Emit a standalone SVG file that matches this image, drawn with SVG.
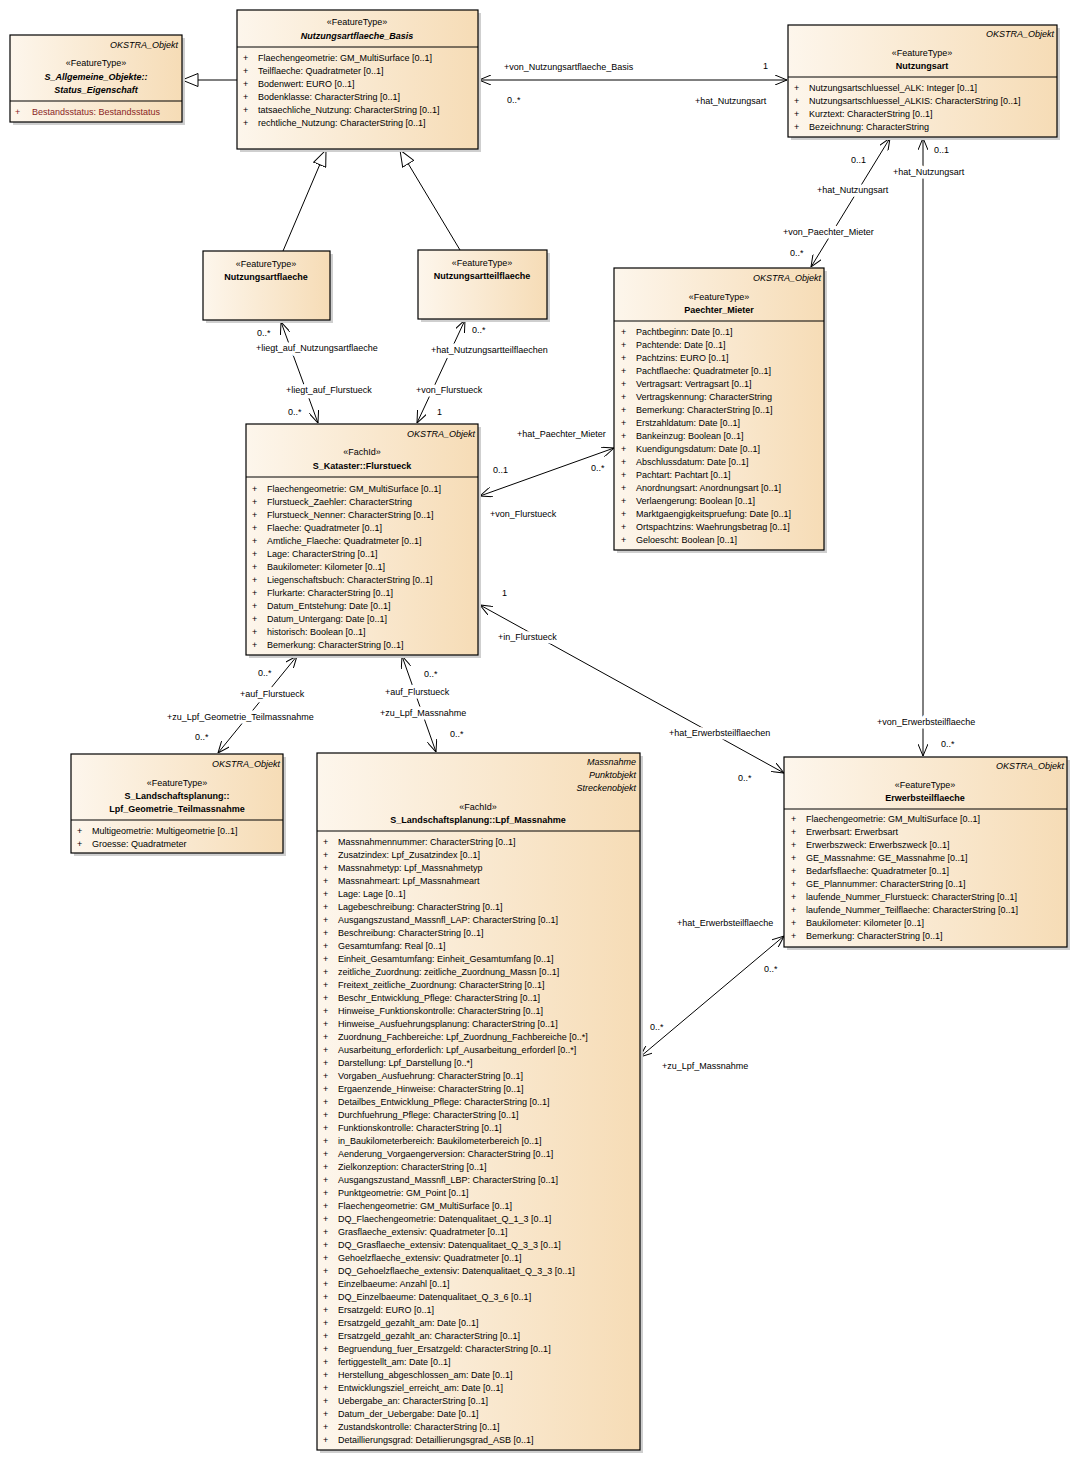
<svg xmlns="http://www.w3.org/2000/svg" width="1078" height="1480" viewBox="0 0 1078 1480">
<defs>
<linearGradient id="g" x1="0" y1="0" x2="1" y2="0"><stop offset="0" stop-color="#FDF6EC"/><stop offset="1" stop-color="#F6DCB6"/></linearGradient>
<marker id="op" viewBox="0 0 12 10" refX="12" refY="5" markerWidth="12" markerHeight="10" markerUnits="userSpaceOnUse" orient="auto-start-reverse"><path d="M0,0 L12,5 L0,10" fill="none" stroke="#000" stroke-width="1"/></marker>
<marker id="tri" viewBox="0 0 17 14" refX="16.5" refY="7" markerWidth="17" markerHeight="14" markerUnits="userSpaceOnUse" orient="auto"><path d="M0.5,0.5 L16.5,7 L0.5,13.5 Z" fill="#fff" stroke="#000" stroke-width="1"/></marker>
</defs>
<style>
.box{fill:url(#g);stroke:#000;stroke-width:1.2}
.sh{fill:#cfcfcf}
.dv{stroke:#000;stroke-width:1}
text{font-family:"Liberation Sans",Arial,sans-serif;font-size:9px;fill:#000}
.c{text-anchor:middle}
.r{text-anchor:end;font-style:italic}
.b{font-weight:bold}
.bi{font-weight:bold;font-style:italic}
.a{fill:#8A1F1F}
.ln{stroke:#000;stroke-width:1;fill:none}
.as{marker-start:url(#op);marker-end:url(#op)}
.gen{marker-end:url(#tri)}
.lbl{paint-order:stroke;stroke:#fff;stroke-width:7px;stroke-linejoin:round}
</style>
<rect width="1078" height="1480" fill="#fff"/>

<g id="connectors">
<line class="ln gen" x1="237" y1="80" x2="182" y2="80"/>
<line class="ln gen" x1="283" y1="251" x2="326" y2="150"/>
<line class="ln gen" x1="460" y1="250" x2="400" y2="150"/>
<line class="ln as" x1="479" y1="80" x2="787" y2="80"/>
<line class="ln as" x1="281" y1="322" x2="318" y2="423"/>
<line class="ln as" x1="465" y1="320" x2="417" y2="423"/>
<line class="ln as" x1="890" y1="138" x2="811" y2="267"/>
<line class="ln as" x1="923" y1="138" x2="923" y2="756"/>
<line class="ln as" x1="480" y1="496" x2="614" y2="448"/>
<line class="ln as" x1="480" y1="605" x2="784" y2="773"/>
<line class="ln as" x1="297" y1="656" x2="218" y2="753"/>
<line class="ln as" x1="402" y1="656" x2="436" y2="752"/>
<line class="ln as" x1="640" y1="1057" x2="784" y2="936"/>
<g class="lbl">
<text x="504" y="70">+von_Nutzungsartflaeche_Basis</text>
<text x="763" y="69">1</text>
<text x="507" y="103">0..*</text>
<text x="695" y="104">+hat_Nutzungsart</text>
<text x="851" y="163">0..1</text>
<text x="817" y="193">+hat_Nutzungsart</text>
<text x="934" y="153">0..1</text>
<text x="893" y="175">+hat_Nutzungsart</text>
<text x="783" y="235">+von_Paechter_Mieter</text>
<text x="790" y="256">0..*</text>
<text x="257" y="336">0..*</text>
<text x="256" y="351">+liegt_auf_Nutzungsartflaeche</text>
<text x="286" y="393">+liegt_auf_Flurstueck</text>
<text x="288" y="415">0..*</text>
<text x="472" y="333">0..*</text>
<text x="431" y="353">+hat_Nutzungsartteilflaechen</text>
<text x="416" y="393">+von_Flurstueck</text>
<text x="437" y="415">1</text>
<text x="517" y="437">+hat_Paechter_Mieter</text>
<text x="493" y="473">0..1</text>
<text x="591" y="471">0..*</text>
<text x="490" y="517">+von_Flurstueck</text>
<text x="502" y="596">1</text>
<text x="498" y="640">+in_Flurstueck</text>
<text x="669" y="736">+hat_Erwerbsteilflaechen</text>
<text x="738" y="781">0..*</text>
<text x="877" y="725">+von_Erwerbsteilflaeche</text>
<text x="941" y="747">0..*</text>
<text x="258" y="676">0..*</text>
<text x="240" y="697">+auf_Flurstueck</text>
<text x="167" y="720">+zu_Lpf_Geometrie_Teilmassnahme</text>
<text x="195" y="740">0..*</text>
<text x="424" y="677">0..*</text>
<text x="385" y="695">+auf_Flurstueck</text>
<text x="380" y="716">+zu_Lpf_Massnahme</text>
<text x="450" y="737">0..*</text>
<text x="677" y="926">+hat_Erwerbsteilflaeche</text>
<text x="764" y="972">0..*</text>
<text x="650" y="1030">0..*</text>
<text x="662" y="1069">+zu_Lpf_Massnahme</text>
</g>
</g>

<g id="status_eigenschaft">
<rect class="sh" x="13" y="38" width="172" height="87"/>
<rect class="box" x="10" y="35" width="172" height="87"/>
<line class="dv" x1="10" y1="101" x2="182" y2="101"/>
<text class="r" x="178" y="48">OKSTRA_Objekt</text>
<text class="c" x="96" y="66">«FeatureType»</text>
<text class="c bi" x="96" y="80">S_Allgemeine_Objekte::</text>
<text class="c bi" x="96" y="93">Status_Eigenschaft</text>
<text class="a"><tspan x="15" y="115">+</tspan><tspan x="32">Bestandsstatus: Bestandsstatus</tspan></text>
</g>

<g id="nutzungsartflaeche_basis">
<rect class="sh" x="240" y="13" width="241" height="139"/>
<rect class="box" x="237" y="10" width="241" height="139"/>
<line class="dv" x1="237" y1="47" x2="478" y2="47"/>
<text class="c" x="357" y="25">«FeatureType»</text>
<text class="c bi" x="357" y="39">Nutzungsartflaeche_Basis</text>
<g class="a">
<text><tspan x="243" y="61">+</tspan><tspan x="258">Flaechengeometrie: GM_MultiSurface [0..1]</tspan></text>
<text><tspan x="243" y="74">+</tspan><tspan x="258">Teilflaeche: Quadratmeter [0..1]</tspan></text>
<text><tspan x="243" y="87">+</tspan><tspan x="258">Bodenwert: EURO [0..1]</tspan></text>
<text><tspan x="243" y="100">+</tspan><tspan x="258">Bodenklasse: CharacterString [0..1]</tspan></text>
<text><tspan x="243" y="113">+</tspan><tspan x="258">tatsaechliche_Nutzung: CharacterString [0..1]</tspan></text>
<text><tspan x="243" y="126">+</tspan><tspan x="258">rechtliche_Nutzung: CharacterString [0..1]</tspan></text>
</g>
</g>

<g id="nutzungsart">
<rect class="sh" x="791" y="28" width="269" height="112"/>
<rect class="box" x="788" y="25" width="269" height="112"/>
<line class="dv" x1="788" y1="77" x2="1057" y2="77"/>
<text class="r" x="1054" y="37">OKSTRA_Objekt</text>
<text class="c" x="922" y="56">«FeatureType»</text>
<text class="c b" x="922" y="69">Nutzungsart</text>
<g class="a">
<text><tspan x="794" y="91">+</tspan><tspan x="809">Nutzungsartschluessel_ALK: Integer [0..1]</tspan></text>
<text><tspan x="794" y="104">+</tspan><tspan x="809">Nutzungsartschluessel_ALKIS: CharacterString [0..1]</tspan></text>
<text><tspan x="794" y="117">+</tspan><tspan x="809">Kurztext: CharacterString [0..1]</tspan></text>
<text><tspan x="794" y="130">+</tspan><tspan x="809">Bezeichnung: CharacterString</tspan></text>
</g>
</g>

<g id="nutzungsartflaeche">
<rect class="sh" x="206" y="254" width="127" height="69"/>
<rect class="box" x="203" y="251" width="127" height="69"/>
<text class="c" x="266" y="267">«FeatureType»</text>
<text class="c b" x="266" y="280">Nutzungsartflaeche</text>
</g>

<g id="nutzungsartteilflaeche">
<rect class="sh" x="421" y="253" width="129" height="69"/>
<rect class="box" x="418" y="250" width="129" height="69"/>
<text class="c" x="482" y="266">«FeatureType»</text>
<text class="c b" x="482" y="279">Nutzungsartteilflaeche</text>
</g>

<g id="flurstueck">
<rect class="sh" x="249" y="427" width="232" height="231"/>
<rect class="box" x="246" y="424" width="232" height="231"/>
<line class="dv" x1="246" y1="477" x2="478" y2="477"/>
<text class="r" x="475" y="437">OKSTRA_Objekt</text>
<text class="c" x="362" y="455">«FachId»</text>
<text class="c b" x="362" y="469">S_Kataster::Flurstueck</text>
<g class="a">
<text><tspan x="252" y="492">+</tspan><tspan x="267">Flaechengeometrie: GM_MultiSurface [0..1]</tspan></text>
<text><tspan x="252" y="505">+</tspan><tspan x="267">Flurstueck_Zaehler: CharacterString</tspan></text>
<text><tspan x="252" y="518">+</tspan><tspan x="267">Flurstueck_Nenner: CharacterString [0..1]</tspan></text>
<text><tspan x="252" y="531">+</tspan><tspan x="267">Flaeche: Quadratmeter [0..1]</tspan></text>
<text><tspan x="252" y="544">+</tspan><tspan x="267">Amtliche_Flaeche: Quadratmeter [0..1]</tspan></text>
<text><tspan x="252" y="557">+</tspan><tspan x="267">Lage: CharacterString [0..1]</tspan></text>
<text><tspan x="252" y="570">+</tspan><tspan x="267">Baukilometer: Kilometer [0..1]</tspan></text>
<text><tspan x="252" y="583">+</tspan><tspan x="267">Liegenschaftsbuch: CharacterString [0..1]</tspan></text>
<text><tspan x="252" y="596">+</tspan><tspan x="267">Flurkarte: CharacterString [0..1]</tspan></text>
<text><tspan x="252" y="609">+</tspan><tspan x="267">Datum_Entstehung: Date [0..1]</tspan></text>
<text><tspan x="252" y="622">+</tspan><tspan x="267">Datum_Untergang: Date [0..1]</tspan></text>
<text><tspan x="252" y="635">+</tspan><tspan x="267">historisch: Boolean [0..1]</tspan></text>
<text><tspan x="252" y="648">+</tspan><tspan x="267">Bemerkung: CharacterString [0..1]</tspan></text>
</g>
</g>

<g id="paechter_mieter">
<rect class="sh" x="617" y="271" width="210" height="282"/>
<rect class="box" x="614" y="268" width="210" height="282"/>
<line class="dv" x1="614" y1="321" x2="824" y2="321"/>
<text class="r" x="821" y="281">OKSTRA_Objekt</text>
<text class="c" x="719" y="300">«FeatureType»</text>
<text class="c b" x="719" y="313">Paechter_Mieter</text>
<g class="a">
<text><tspan x="621" y="335">+</tspan><tspan x="636">Pachtbeginn: Date [0..1]</tspan></text>
<text><tspan x="621" y="348">+</tspan><tspan x="636">Pachtende: Date [0..1]</tspan></text>
<text><tspan x="621" y="361">+</tspan><tspan x="636">Pachtzins: EURO [0..1]</tspan></text>
<text><tspan x="621" y="374">+</tspan><tspan x="636">Pachtflaeche: Quadratmeter [0..1]</tspan></text>
<text><tspan x="621" y="387">+</tspan><tspan x="636">Vertragsart: Vertragsart [0..1]</tspan></text>
<text><tspan x="621" y="400">+</tspan><tspan x="636">Vertragskennung: CharacterString</tspan></text>
<text><tspan x="621" y="413">+</tspan><tspan x="636">Bemerkung: CharacterString [0..1]</tspan></text>
<text><tspan x="621" y="426">+</tspan><tspan x="636">Erstzahldatum: Date [0..1]</tspan></text>
<text><tspan x="621" y="439">+</tspan><tspan x="636">Bankeinzug: Boolean [0..1]</tspan></text>
<text><tspan x="621" y="452">+</tspan><tspan x="636">Kuendigungsdatum: Date [0..1]</tspan></text>
<text><tspan x="621" y="465">+</tspan><tspan x="636">Abschlussdatum: Date [0..1]</tspan></text>
<text><tspan x="621" y="478">+</tspan><tspan x="636">Pachtart: Pachtart [0..1]</tspan></text>
<text><tspan x="621" y="491">+</tspan><tspan x="636">Anordnungsart: Anordnungsart [0..1]</tspan></text>
<text><tspan x="621" y="504">+</tspan><tspan x="636">Verlaengerung: Boolean [0..1]</tspan></text>
<text><tspan x="621" y="517">+</tspan><tspan x="636">Marktgaengigkeitspruefung: Date [0..1]</tspan></text>
<text><tspan x="621" y="530">+</tspan><tspan x="636">Ortspachtzins: Waehrungsbetrag [0..1]</tspan></text>
<text><tspan x="621" y="543">+</tspan><tspan x="636">Geloescht: Boolean [0..1]</tspan></text>
</g>
</g>

<g id="lpf_geometrie_teilmassnahme">
<rect class="sh" x="74" y="757" width="212" height="99"/>
<rect class="box" x="71" y="754" width="212" height="99"/>
<line class="dv" x1="71" y1="820" x2="283" y2="820"/>
<text class="r" x="280" y="767">OKSTRA_Objekt</text>
<text class="c" x="177" y="786">«FeatureType»</text>
<text class="c b" x="177" y="799">S_Landschaftsplanung::</text>
<text class="c b" x="177" y="812">Lpf_Geometrie_Teilmassnahme</text>
<g class="a">
<text><tspan x="77" y="834">+</tspan><tspan x="92">Multigeometrie: Multigeometrie [0..1]</tspan></text>
<text><tspan x="77" y="847">+</tspan><tspan x="92">Groesse: Quadratmeter</tspan></text>
</g>
</g>

<g id="lpf_massnahme">
<rect class="sh" x="320" y="756" width="323" height="697"/>
<rect class="box" x="317" y="753" width="323" height="697"/>
<line class="dv" x1="317" y1="831" x2="640" y2="831"/>
<text class="r" x="636" y="765">Massnahme</text>
<text class="r" x="636" y="778">Punktobjekt</text>
<text class="r" x="636" y="791">Streckenobjekt</text>
<text class="c" x="478" y="810">«FachId»</text>
<text class="c b" x="478" y="823">S_Landschaftsplanung::Lpf_Massnahme</text>
<g class="a">
<text><tspan x="323" y="845">+</tspan><tspan x="338">Massnahmennummer: CharacterString [0..1]</tspan></text>
<text><tspan x="323" y="858">+</tspan><tspan x="338">Zusatzindex: Lpf_Zusatzindex [0..1]</tspan></text>
<text><tspan x="323" y="871">+</tspan><tspan x="338">Massnahmetyp: Lpf_Massnahmetyp</tspan></text>
<text><tspan x="323" y="884">+</tspan><tspan x="338">Massnahmeart: Lpf_Massnahmeart</tspan></text>
<text><tspan x="323" y="897">+</tspan><tspan x="338">Lage: Lage [0..1]</tspan></text>
<text><tspan x="323" y="910">+</tspan><tspan x="338">Lagebeschreibung: CharacterString [0..1]</tspan></text>
<text><tspan x="323" y="923">+</tspan><tspan x="338">Ausgangszustand_Massnfl_LAP: CharacterString [0..1]</tspan></text>
<text><tspan x="323" y="936">+</tspan><tspan x="338">Beschreibung: CharacterString [0..1]</tspan></text>
<text><tspan x="323" y="949">+</tspan><tspan x="338">Gesamtumfang: Real [0..1]</tspan></text>
<text><tspan x="323" y="962">+</tspan><tspan x="338">Einheit_Gesamtumfang: Einheit_Gesamtumfang [0..1]</tspan></text>
<text><tspan x="323" y="975">+</tspan><tspan x="338">zeitliche_Zuordnung: zeitliche_Zuordnung_Massn [0..1]</tspan></text>
<text><tspan x="323" y="988">+</tspan><tspan x="338">Freitext_zeitliche_Zuordnung: CharacterString [0..1]</tspan></text>
<text><tspan x="323" y="1001">+</tspan><tspan x="338">Beschr_Entwicklung_Pflege: CharacterString [0..1]</tspan></text>
<text><tspan x="323" y="1014">+</tspan><tspan x="338">Hinweise_Funktionskontrolle: CharacterString [0..1]</tspan></text>
<text><tspan x="323" y="1027">+</tspan><tspan x="338">Hinweise_Ausfuehrungsplanung: CharacterString [0..1]</tspan></text>
<text><tspan x="323" y="1040">+</tspan><tspan x="338">Zuordnung_Fachbereiche: Lpf_Zuordnung_Fachbereiche [0..*]</tspan></text>
<text><tspan x="323" y="1053">+</tspan><tspan x="338">Ausarbeitung_erforderlich: Lpf_Ausarbeitung_erforderl [0..*]</tspan></text>
<text><tspan x="323" y="1066">+</tspan><tspan x="338">Darstellung: Lpf_Darstellung [0..*]</tspan></text>
<text><tspan x="323" y="1079">+</tspan><tspan x="338">Vorgaben_Ausfuehrung: CharacterString [0..1]</tspan></text>
<text><tspan x="323" y="1092">+</tspan><tspan x="338">Ergaenzende_Hinweise: CharacterString [0..1]</tspan></text>
<text><tspan x="323" y="1105">+</tspan><tspan x="338">Detailbes_Entwicklung_Pflege: CharacterString [0..1]</tspan></text>
<text><tspan x="323" y="1118">+</tspan><tspan x="338">Durchfuehrung_Pflege: CharacterString [0..1]</tspan></text>
<text><tspan x="323" y="1131">+</tspan><tspan x="338">Funktionskontrolle: CharacterString [0..1]</tspan></text>
<text><tspan x="323" y="1144">+</tspan><tspan x="338">in_Baukilometerbereich: Baukilometerbereich [0..1]</tspan></text>
<text><tspan x="323" y="1157">+</tspan><tspan x="338">Aenderung_Vorgaengerversion: CharacterString [0..1]</tspan></text>
<text><tspan x="323" y="1170">+</tspan><tspan x="338">Zielkonzeption: CharacterString [0..1]</tspan></text>
<text><tspan x="323" y="1183">+</tspan><tspan x="338">Ausgangszustand_Massnfl_LBP: CharacterString [0..1]</tspan></text>
<text><tspan x="323" y="1196">+</tspan><tspan x="338">Punktgeometrie: GM_Point [0..1]</tspan></text>
<text><tspan x="323" y="1209">+</tspan><tspan x="338">Flaechengeometrie: GM_MultiSurface [0..1]</tspan></text>
<text><tspan x="323" y="1222">+</tspan><tspan x="338">DQ_Flaechengeometrie: Datenqualitaet_Q_1_3 [0..1]</tspan></text>
<text><tspan x="323" y="1235">+</tspan><tspan x="338">Grasflaeche_extensiv: Quadratmeter [0..1]</tspan></text>
<text><tspan x="323" y="1248">+</tspan><tspan x="338">DQ_Grasflaeche_extensiv: Datenqualitaet_Q_3_3 [0..1]</tspan></text>
<text><tspan x="323" y="1261">+</tspan><tspan x="338">Gehoelzflaeche_extensiv: Quadratmeter [0..1]</tspan></text>
<text><tspan x="323" y="1274">+</tspan><tspan x="338">DQ_Gehoelzflaeche_extensiv: Datenqualitaet_Q_3_3 [0..1]</tspan></text>
<text><tspan x="323" y="1287">+</tspan><tspan x="338">Einzelbaeume: Anzahl [0..1]</tspan></text>
<text><tspan x="323" y="1300">+</tspan><tspan x="338">DQ_Einzelbaeume: Datenqualitaet_Q_3_6 [0..1]</tspan></text>
<text><tspan x="323" y="1313">+</tspan><tspan x="338">Ersatzgeld: EURO [0..1]</tspan></text>
<text><tspan x="323" y="1326">+</tspan><tspan x="338">Ersatzgeld_gezahlt_am: Date [0..1]</tspan></text>
<text><tspan x="323" y="1339">+</tspan><tspan x="338">Ersatzgeld_gezahlt_an: CharacterString [0..1]</tspan></text>
<text><tspan x="323" y="1352">+</tspan><tspan x="338">Begruendung_fuer_Ersatzgeld: CharacterString [0..1]</tspan></text>
<text><tspan x="323" y="1365">+</tspan><tspan x="338">fertiggestellt_am: Date [0..1]</tspan></text>
<text><tspan x="323" y="1378">+</tspan><tspan x="338">Herstellung_abgeschlossen_am: Date [0..1]</tspan></text>
<text><tspan x="323" y="1391">+</tspan><tspan x="338">Entwicklungsziel_erreicht_am: Date [0..1]</tspan></text>
<text><tspan x="323" y="1404">+</tspan><tspan x="338">Uebergabe_an: CharacterString [0..1]</tspan></text>
<text><tspan x="323" y="1417">+</tspan><tspan x="338">Datum_der_Uebergabe: Date [0..1]</tspan></text>
<text><tspan x="323" y="1430">+</tspan><tspan x="338">Zustandskontrolle: CharacterString [0..1]</tspan></text>
<text><tspan x="323" y="1443">+</tspan><tspan x="338">Detaillierungsgrad: Detaillierungsgrad_ASB [0..1]</tspan></text>
</g>
</g>

<g id="erwerbsteilflaeche">
<rect class="sh" x="787" y="760" width="283" height="190"/>
<rect class="box" x="784" y="757" width="283" height="190"/>
<line class="dv" x1="784" y1="809" x2="1067" y2="809"/>
<text class="r" x="1064" y="769">OKSTRA_Objekt</text>
<text class="c" x="925" y="788">«FeatureType»</text>
<text class="c b" x="925" y="801">Erwerbsteilflaeche</text>
<g class="a">
<text><tspan x="791" y="822">+</tspan><tspan x="806">Flaechengeometrie: GM_MultiSurface [0..1]</tspan></text>
<text><tspan x="791" y="835">+</tspan><tspan x="806">Erwerbsart: Erwerbsart</tspan></text>
<text><tspan x="791" y="848">+</tspan><tspan x="806">Erwerbszweck: Erwerbszweck [0..1]</tspan></text>
<text><tspan x="791" y="861">+</tspan><tspan x="806">GE_Massnahme: GE_Massnahme [0..1]</tspan></text>
<text><tspan x="791" y="874">+</tspan><tspan x="806">Bedarfsflaeche: Quadratmeter [0..1]</tspan></text>
<text><tspan x="791" y="887">+</tspan><tspan x="806">GE_Plannummer: CharacterString [0..1]</tspan></text>
<text><tspan x="791" y="900">+</tspan><tspan x="806">laufende_Nummer_Flurstueck: CharacterString [0..1]</tspan></text>
<text><tspan x="791" y="913">+</tspan><tspan x="806">laufende_Nummer_Teilflaeche: CharacterString [0..1]</tspan></text>
<text><tspan x="791" y="926">+</tspan><tspan x="806">Baukilometer: Kilometer [0..1]</tspan></text>
<text><tspan x="791" y="939">+</tspan><tspan x="806">Bemerkung: CharacterString [0..1]</tspan></text>
</g>
</g>
</svg>
